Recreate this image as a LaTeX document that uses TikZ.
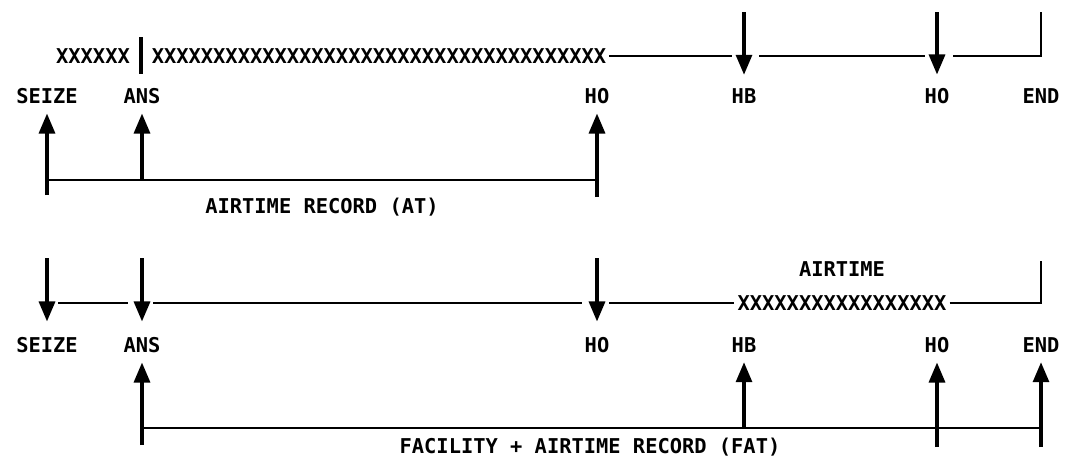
\documentclass[tikz,border=0pt]{standalone}
\usepackage{fontspec}
\newfontfamily\plotfont{DejaVu Sans Mono}
\usetikzlibrary{arrows.meta}

\begin{document}
\begin{tikzpicture}[x=1pt, y=-1pt, every node/.style={font=\plotfont\bfseries\fontsize{20.4}{24}\selectfont},
	>={Triangle[length=20pt,width=16pt]}, line/.style={line width=2.8pt}, arr/.style={->, line width=3.2pt},
	lbl/.style={inner sep=9.6pt}, xx/.style={inner sep=3pt}]
	\useasboundingbox (0,0) rectangle (1069,463);
	% event labels of both time lines
	\foreach \n/\x/\t in {s/47/SEIZE, a/142/ANS, h/597/HO, b/744/HB, o/937/HO, e/1041/END} {
		\node[lbl] (t\n) at (\x,96) {\t};
		\node[lbl] (u\n) at (\x,345) {\t};
	}
	% upper time line
	\node[xx] (xa) at (93,56) {XXXXXX};
	\node[xx] (xb) at (379,56) {XXXXXXXXXXXXXXXXXXXXXXXXXXXXXXXXXXXXX};
	\draw[line width=3.2pt] (141,37) coordinate (bar1) -- (141,74) coordinate (bar2);
	\draw[line] (xb.east) -- (732,56) coordinate (g1);
	\draw[line] (759,56) coordinate (g2) -- (925,56) coordinate (g3);
	\draw[line] (953,56) coordinate (g4) -- (1041,56) -- (1041,12) coordinate (te1);
	\foreach \n/\x in {b/744, o/937}
		\draw[arr, shorten >=4pt] (\x,12) coordinate (d\n) -- (t\n);
	% airtime record
	\draw[arr] (47,195) coordinate (rs) -- (ts);
	\draw[arr] (142,180) coordinate (ra) -- (ta);
	\draw[arr] (597,197) coordinate (rh) -- (th);
	\draw[line] (47,180) coordinate (r1) -- (597,180) coordinate (r2);
	\node[anchor=base] (at) at (322,213) {AIRTIME RECORD (AT)};
	% lower time line
	\foreach \n/\x in {s/47, a/142, h/597}
		\draw[arr, shorten >=6pt] (\x,258) coordinate (e\n) -- (u\n);
	\node[xx] (xc) at (842,303) {XXXXXXXXXXXXXXXXX};
	\node (air) at (842,269) {AIRTIME};
	\draw[line] (58,303) coordinate (h1) -- (128,303) coordinate (h2);
	\draw[line] (153,303) coordinate (h3) -- (582,303) coordinate (h4);
	\draw[line] (609,303) coordinate (h5) -- (xc.west);
	\draw[line] (xc.east) -- (1041,303) -- (1041,261) coordinate (te2);
	% facility + airtime record
	\draw[arr] (142,445) coordinate (fa) -- (ua);
	\draw[arr] (744,428) coordinate (fb) -- (ub);
	\draw[arr] (937,447) coordinate (fo) -- (uo);
	\draw[arr] (1041,447) coordinate (fe) -- (ue);
	\draw[line] (142,428) coordinate (f1) -- (1041,428) coordinate (f2);
	\node[anchor=base] (fat) at (590,453) {FACILITY + AIRTIME RECORD (FAT)};
\end{tikzpicture}
\end{document}
